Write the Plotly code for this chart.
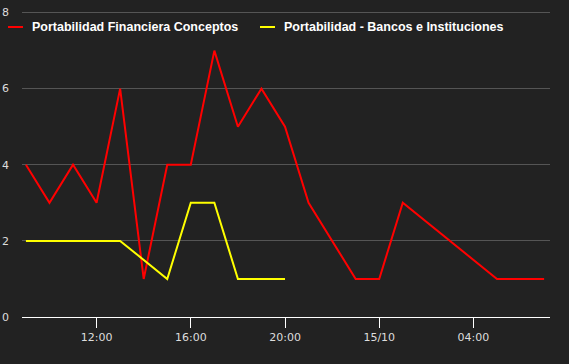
import plotly.graph_objects as go

red_name = "Portabilidad Financiera Conceptos"
red_times = ["2019-10-14 09:00", "2019-10-14 10:00", "2019-10-14 11:00", "2019-10-14 12:00",
             "2019-10-14 13:00", "2019-10-14 14:00", "2019-10-14 15:00", "2019-10-14 16:00",
             "2019-10-14 17:00", "2019-10-14 18:00", "2019-10-14 19:00", "2019-10-14 20:00",
             "2019-10-14 21:00", "2019-10-14 23:00", "2019-10-15 00:00", "2019-10-15 01:00",
             "2019-10-15 05:00", "2019-10-15 06:00", "2019-10-15 07:00"]
red_values = [4, 3, 4, 3, 6, 1, 4, 4, 7, 5, 6, 5, 3, 1, 1, 3, 1, 1, 1]

yellow_name = "Portabilidad - Bancos e Instituciones"
yellow_times = ["2019-10-14 09:00", "2019-10-14 10:00", "2019-10-14 11:00", "2019-10-14 12:00",
                "2019-10-14 13:00", "2019-10-14 15:00", "2019-10-14 16:00", "2019-10-14 17:00",
                "2019-10-14 18:00", "2019-10-14 19:00", "2019-10-14 20:00"]
yellow_values = [2, 2, 2, 2, 2, 1, 3, 3, 1, 1, 1]

tick_vals = ["2019-10-14 12:00", "2019-10-14 16:00", "2019-10-14 20:00",
             "2019-10-15 00:00", "2019-10-15 04:00"]
tick_text = ["12:00", "16:00", "20:00", "15/10", "04:00"]
y_ticks = [0, 2, 4, 6, 8]

BG = "#222222"
W, H = 569, 364
ML, MR, MT, MB = 22, 19, 11, 47
PW, PH = W - ML - MR, H - MT - MB
Y_TOP = 8.04

fig = go.Figure()
fig.add_trace(go.Scatter(x=red_times, y=red_values, mode="lines", name=red_name,
                         line=dict(color="#ff0000", width=2), showlegend=False))
fig.add_trace(go.Scatter(x=yellow_times, y=yellow_values, mode="lines", name=yellow_name,
                         line=dict(color="#ffff00", width=2), showlegend=False))

def px_x(p):
    return (p - ML) / PW

def px_y(p):
    return (H - MB - p) / PH

legend_items = [(red_name, "#ff0000", 8, 30), (yellow_name, "#ffff00", 260, 282)]
for name, color, lx, tx in legend_items:
    fig.add_shape(type="line", xref="paper", yref="paper",
                  x0=px_x(lx), x1=px_x(lx + 15), y0=px_y(27), y1=px_y(27),
                  line=dict(color=color, width=2))
    fig.add_annotation(text="<b>" + name + "</b>", xref="paper", yref="paper",
                       x=px_x(tx), y=px_y(27), xanchor="left", yanchor="middle",
                       showarrow=False,
                       font=dict(family="Liberation Sans", size=12.5, color="#ffffff"))

fig.update_layout(
    width=W, height=H,
    margin=dict(l=ML, r=MR, t=MT, b=MB, autoexpand=False),
    paper_bgcolor=BG, plot_bgcolor=BG,
    font=dict(family="DejaVu Sans", size=11, color="#dddddd"),
)
fig.update_xaxes(range=["2019-10-14 08:50", "2019-10-15 07:15"],
                 tickvals=tick_vals, ticktext=tick_text, automargin=False,
                 showgrid=False, showline=True, linecolor="#ffffff", linewidth=1,
                 ticks="outside", ticklen=10, tickcolor="#ffffff", tickwidth=1,
                 zeroline=False, tickfont=dict(size=11, color="#dddddd"))
fig.update_yaxes(range=[0, Y_TOP], tickvals=y_ticks, showgrid=True, gridcolor="#555555",
                 gridwidth=1, zeroline=False, showline=False, ticks="", automargin=False,
                 ticklabelstandoff=12, tickfont=dict(size=11, color="#dddddd"))

fig.write_html("out.html")
